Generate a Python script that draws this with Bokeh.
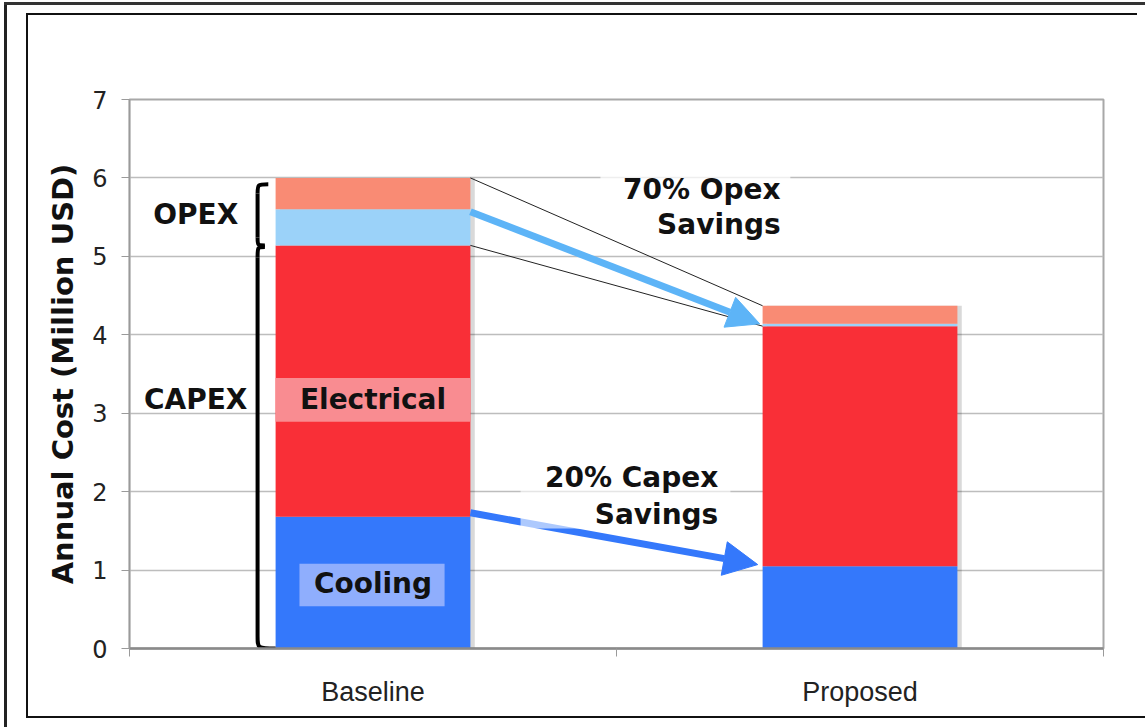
import numpy as np
from bokeh.plotting import figure
from bokeh.models import Range1d, FixedTicker, Arrow, NormalHead, BoxAnnotation, Label
from bokeh.embed import file_html
from bokeh.resources import INLINE

# Annual cost breakdown (million USD)
categories = ["Baseline", "Proposed"]
cooling_capex = [1.68, 1.05]
electrical_capex = [3.46, 3.06]
cooling_opex = [0.46, 0.03]
electrical_opex = [0.40, 0.23]
y_ticks = [0, 1, 2, 3, 4, 5, 6, 7]

BLUE = "#3478FB"
RED = "#F92F37"
LIGHT_BLUE = "#9BD2F9"
SALMON = "#F98B74"
ARROW_BLUE = "#5DB4F7"
BOLD_FONT = "DejaVu Sans"

xs = np.arange(len(categories)) + 0.5
cc = np.array(cooling_capex)
ec = np.array(electrical_capex)
co = np.array(cooling_opex)
eo = np.array(electrical_opex)
top_cc = cc
top_ec = cc + ec
top_co = top_ec + co
top_eo = top_co + eo
bar_w = 0.4
half = bar_w / 2

# page rules painted behind the transparent border area: (left, top, width, height, colour)
page_rules = [
    (4, 2, 1141, 3, "#333333"),
    (4, 2, 3, 725, "#222222"),
    (27, 13, 1110, 2, "#111111"),
    (26, 13, 2, 705, "#111111"),
    (26, 716, 1119, 2, "#111111"),
]
page_styles = {
    "background-image": ", ".join(f"linear-gradient({c}, {c})" for *_, c in page_rules),
    "background-position": ", ".join(f"{l}px {t}px" for l, t, *_ in page_rules),
    "background-size": ", ".join(f"{w}px {h}px" for _, _, w, h, _ in page_rules),
    "background-repeat": "no-repeat",
}

p = figure(width=1145, height=727, output_backend="svg", toolbar_location=None,
           x_range=Range1d(0, 2), y_range=Range1d(0, 7),
           min_border_left=129, min_border_right=42, min_border_top=99, min_border_bottom=79,
           styles=page_styles)
p.background_fill_color = "white"
p.border_fill_color = None
p.outline_line_color = "#A8A8A8"
p.outline_line_width = 2

# grid and axes
p.xgrid.grid_line_color = None
p.ygrid.grid_line_color = "#BDBDBD"
p.ygrid.grid_line_width = 1.3

p.yaxis.ticker = FixedTicker(ticks=y_ticks)
p.yaxis.axis_line_color = "#9A9A9A"
p.yaxis.axis_line_width = 1.5
p.yaxis.major_tick_line_color = "#9A9A9A"
p.yaxis.major_tick_in = 0
p.yaxis.major_tick_out = 8
p.yaxis.minor_tick_line_color = None
p.yaxis.major_label_text_font = "DejaVu Sans"
p.yaxis.major_label_text_font_size = "24px"
p.yaxis.major_label_text_color = "#222222"
p.yaxis.major_label_standoff = 14
p.yaxis.axis_label = "Annual Cost (Million USD)"
p.yaxis.axis_label_text_font = BOLD_FONT
p.yaxis.axis_label_text_font_style = "bold"
p.yaxis.axis_label_text_font_size = "29px"
p.yaxis.axis_label_text_color = "#111111"
p.yaxis.axis_label_standoff = 9

p.xaxis.ticker = FixedTicker(ticks=list(xs), minor_ticks=[0, 1, 2])
p.xaxis.major_label_overrides = {float(x): c for x, c in zip(xs, categories)}
p.xaxis.axis_line_color = "#8A8A8A"
p.xaxis.axis_line_width = 2.5
p.xaxis.major_tick_line_color = None
p.xaxis.major_tick_out = 0
p.xaxis.major_tick_in = 0
p.xaxis.minor_tick_line_color = "#9A9A9A"
p.xaxis.minor_tick_out = 8
p.xaxis.minor_tick_in = 0
p.xaxis.major_label_text_font = "Liberation Sans"
p.xaxis.major_label_text_font_size = "27px"
p.xaxis.major_label_text_color = "#222222"
p.xaxis.major_label_standoff = 20

# soft shadow on the right of each bar
p.vbar(x=xs + 0.009, bottom=0, top=top_eo, width=bar_w, fill_color="#000000",
       fill_alpha=0.15, line_color=None)

# stacked bars
p.vbar(x=xs, bottom=0, top=top_cc, width=bar_w, fill_color=BLUE, line_color=None)
p.vbar(x=xs, bottom=top_cc, top=top_ec, width=bar_w, fill_color=RED, line_color=None)
p.vbar(x=xs, bottom=top_ec, top=top_co, width=bar_w, fill_color=LIGHT_BLUE, line_color=None)
p.vbar(x=xs, bottom=top_co, top=top_eo, width=bar_w, fill_color=SALMON, line_color=None)

# label backgrounds inside the baseline bar
p.quad(left=xs[0] - half, right=xs[0] + half, bottom=2.89, top=3.45,
       fill_color="#F98C91", line_color=None)
p.quad(left=0.349, right=0.647, bottom=0.54, top=1.08,
       fill_color="#8FAEFD", line_color=None)

# thin connectors between the opex blocks
p.segment(x0=[xs[0] + half] * 2, y0=[top_eo[0], top_ec[0]],
          x1=[xs[1] - half] * 2, y1=[top_eo[1], top_ec[1]],
          line_color="#222222", line_width=1)

# savings arrows
p.add_layout(Arrow(end=NormalHead(size=32, fill_color=ARROW_BLUE, line_color=ARROW_BLUE),
                   x_start=xs[0] + half, y_start=top_co[0] - 0.03,
                   x_end=xs[1] - half - 0.006, y_end=top_co[1],
                   line_color=ARROW_BLUE, line_width=7))
p.add_layout(Arrow(end=NormalHead(size=34, fill_color=BLUE, line_color=BLUE),
                   x_start=xs[0] + half, y_start=top_cc[0] + 0.05,
                   x_end=xs[1] - half - 0.01, y_end=top_cc[1] + 0.02,
                   line_color=BLUE, line_width=7))

# translucent backdrops behind the savings captions
p.add_layout(BoxAnnotation(left=0.967, right=1.357, bottom=5.31, top=6.12,
                           fill_color="white", fill_alpha=0.75, line_color=None))
p.add_layout(BoxAnnotation(left=0.803, right=1.234, bottom=1.53, top=2.46,
                           fill_color="white", fill_alpha=0.6, line_color=None))

# braces for OPEX / CAPEX
bx = 0.263
hook = 0.285
opex_top = top_eo[0] - 0.08
split = top_ec[0]
p.bezier(x0=hook, y0=opex_top, x1=bx, y1=opex_top - 0.12, cx0=bx, cy0=opex_top, cx1=bx, cy1=opex_top,
         line_color="black", line_width=4)
p.segment(x0=bx, y0=opex_top - 0.12, x1=bx, y1=split + 0.1, line_color="black", line_width=4)
p.bezier(x0=bx, y0=split + 0.1, x1=bx + 0.015, y1=split, cx0=bx, cy0=split, cx1=bx, cy1=split,
         line_color="black", line_width=4)
p.bezier(x0=bx + 0.015, y0=split - 0.02, x1=bx, y1=split - 0.15, cx0=bx, cy0=split - 0.02,
         cx1=bx, cy1=split - 0.02, line_color="black", line_width=4)
p.segment(x0=bx, y0=split - 0.15, x1=bx, y1=0.16, line_color="black", line_width=4)
p.bezier(x0=bx, y0=0.16, x1=xs[0] - half, y1=0.0, cx0=bx, cy0=0.0, cx1=bx, cy1=0.0,
         line_color="black", line_width=4)


def caption(x, y, text, align="center"):
    p.add_layout(Label(x=x, y=y, text=text, text_font=BOLD_FONT, text_font_style="bold",
                       text_font_size="28px", text_color="#111111",
                       text_align=align, text_baseline="middle"))


caption(0.136, (opex_top + split) / 2, "OPEX")
caption(0.136, 3.17, "CAPEX")
caption(xs[0], 3.17, "Electrical")
caption(xs[0], 0.83, "Cooling")
caption(1.337, 5.85, "70% Opex", "right")
caption(1.337, 5.40, "Savings", "right")
caption(1.209, 2.18, "20% Capex", "right")
caption(1.209, 1.71, "Savings", "right")

open("out.html", "w").write(file_html(p, INLINE))
